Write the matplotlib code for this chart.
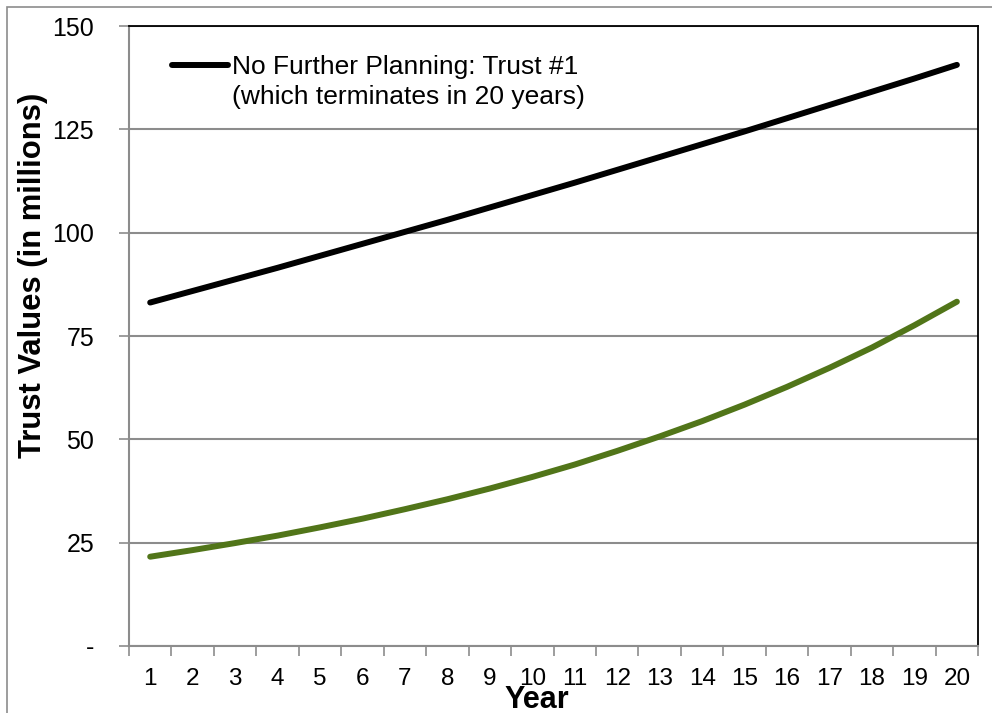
import matplotlib
matplotlib.use('Agg')
import matplotlib.pyplot as plt
from matplotlib.patches import Rectangle

plt.rcParams['font.family'] = ['Liberation Sans', 'DejaVu Sans']

years = list(range(1, 21))
# trust values in millions
trust1 = [83.1, 85.9, 88.7, 91.5, 94.4, 97.3, 100.2, 103.1, 106.1, 109.1,
          112.1, 115.2, 118.3, 121.4, 124.5, 127.7, 130.9, 134.1, 137.3, 140.6]
trust2 = [21.6, 23.2, 24.9, 26.7, 28.7, 30.8, 33.1, 35.5, 38.1, 40.9,
          43.9, 47.2, 50.7, 54.4, 58.4, 62.7, 67.3, 72.2, 77.6, 83.3]
yticks = [0, 25, 50, 75, 100, 125, 150]
ytick_labels = ['-', '25', '50', '75', '100', '125', '150']
legend_line1 = 'No Further Planning: Trust #1'
legend_line2 = '(which terminates in 20 years)'

fig = plt.figure(figsize=(9.92, 7.13), dpi=100)
# outer chart-area border (only top/left visible in the crop)
fig.patches.append(Rectangle((7 / 992, -0.1), 1.2, 1.1 - 7 / 713,
                             transform=fig.transFigure, fill=False,
                             edgecolor='#8c8c8c', lw=1.2))
ax = fig.add_axes([0.130, 0.094, 0.856, 0.8695])

line1, = ax.plot(years, trust1, color='black', lw=4.3, solid_capstyle='round',
                 label=legend_line1)
ax.plot(years, trust2, color='#517519', lw=4.3, solid_capstyle='round')

ax.set_xlim(0.5, 20.5)
ax.set_ylim(0, 150)
ax.set_yticks(yticks)
ax.set_yticklabels(ytick_labels)
ax.set_xticks(years)
ax.set_xticks([y + 0.5 for y in [0] + years], minor=True)
ax.tick_params(axis='x', which='major', length=0, labelsize=17.5, pad=16)
ax.tick_params(axis='x', which='minor', length=7, width=1.2, color='#8c8c8c',
               direction='out')
ax.tick_params(axis='y', length=7, width=1.2, color='#8c8c8c', labelsize=18,
               pad=18)

ax.grid(axis='y', color='#8c8c8c', lw=1.5)
ax.set_axisbelow(True)
for s in ['left', 'bottom']:
    ax.spines[s].set_color('#8c8c8c')
    ax.spines[s].set_linewidth(1.5)
for s in ['top', 'right']:
    ax.spines[s].set_color('black')
    ax.spines[s].set_linewidth(1.3)

ax.set_ylabel('Trust Values (in millions)', fontsize=22.3, fontweight='bold')
ax.yaxis.set_label_coords(-0.0954, 0.598)
ax.set_xlabel('Year', fontsize=22, fontweight='bold')
ax.xaxis.set_label_coords(0.4806, -0.063)

# legend only lists the black series; its label wraps onto a second line
leg = ax.legend(handles=[line1], loc='upper left', frameon=False, fontsize=19,
                handlelength=2.12, handletextpad=0.15, borderpad=0,
                borderaxespad=0, bbox_to_anchor=(0.0506, 0.9532))
ax.text(0.1213, 0.8745, legend_line2, transform=ax.transAxes, fontsize=19,
        va='baseline', ha='left')

fig.savefig('out.png', dpi=100)
